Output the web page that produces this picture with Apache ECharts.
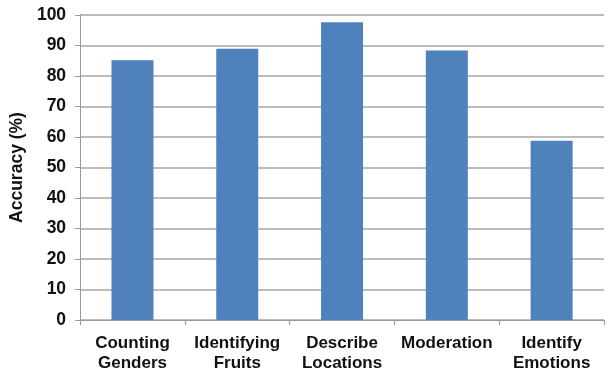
<!DOCTYPE html>
<html>
<head>
<meta charset="utf-8">
<script src="https://cdn.jsdelivr.net/npm/echarts@6/dist/echarts.min.js"></script>
<style>
  html, body { margin: 0; padding: 0; background: #fff; }
  #chart { width: 609px; height: 375px; }
</style>
</head>
<body>
<div id="chart"></div>
<script>
// task names and accuracy (%)
var tasks = ['Counting\nGenders', 'Identifying\nFruits', 'Describe\nLocations', 'Moderation', 'Identify\nEmotions'];
var accuracy = [85.2, 88.9, 97.6, 88.4, 58.8];

var chart = echarts.init(document.getElementById('chart'));
chart.setOption({
  animation: false,
  grid: { left: 78, right: 5, top: 15, bottom: 55 },
  xAxis: {
    type: 'category',
    data: tasks,
    axisLine: { lineStyle: { color: '#9a9a9a', width: 1 } },
    axisTick: { show: true, length: 5, lineStyle: { color: '#9a9a9a' } },
    axisLabel: {
      color: '#111', fontFamily: 'Liberation Sans', fontWeight: 'bold', fontSize: 17,
      lineHeight: 20, margin: 13, interval: 0
    }
  },
  yAxis: {
    type: 'value',
    min: 0, max: 100, interval: 10,
    name: 'Accuracy (%)',
    nameLocation: 'middle',
    nameGap: 47,
    nameTextStyle: { color: '#111', fontFamily: 'Liberation Sans', fontWeight: 'bold', fontSize: 17.5 },
    axisLine: { show: true, lineStyle: { color: '#9a9a9a', width: 1 } },
    axisTick: { show: true, length: 5, lineStyle: { color: '#9a9a9a' } },
    axisLabel: { color: '#111', fontFamily: 'Liberation Sans', fontWeight: 'bold', fontSize: 17.5, margin: 14 },
    splitLine: { lineStyle: { color: '#a6a6a6', width: 1.5 } }
  },
  series: [{
    type: 'bar',
    data: accuracy,
    barWidth: 42,
    itemStyle: { color: '#4f81bd' }
  }]
});
</script>
</body>
</html>
